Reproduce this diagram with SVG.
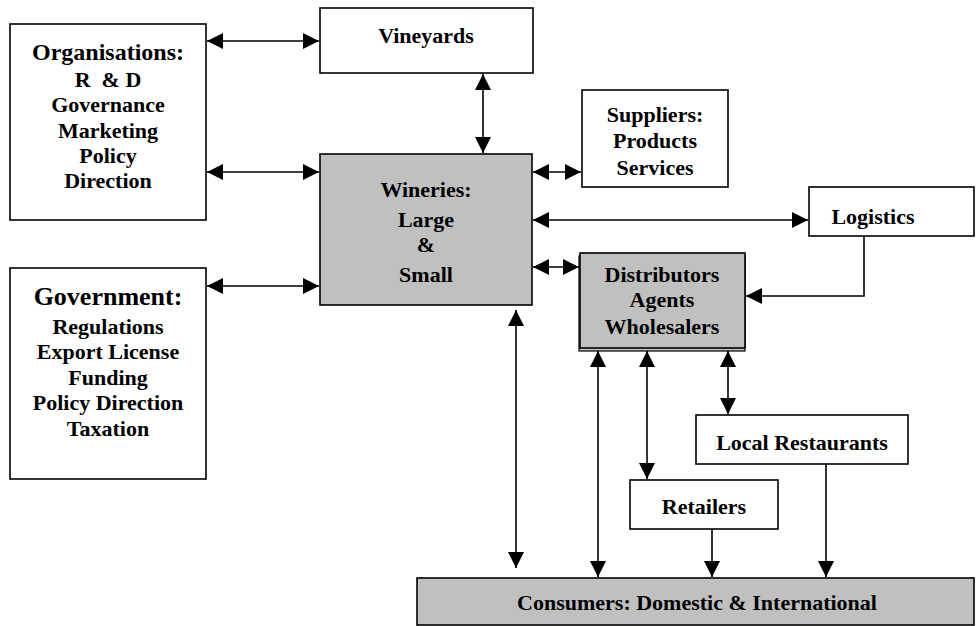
<svg xmlns="http://www.w3.org/2000/svg" width="976" height="626" viewBox="0 0 976 626">
<defs>
<marker id="ah" viewBox="0 0 16 16" refX="16" refY="8" markerWidth="16" markerHeight="16" markerUnits="userSpaceOnUse" orient="auto-start-reverse">
<path d="M0,0 L16,8 L0,16 z" fill="#000"/>
</marker>
<style>
.box{fill:#fff;stroke:#000;stroke-width:1.6}
.gbox{fill:#c0c0c0;stroke:#000;stroke-width:1.6}
.sh{fill:#c0c0c0;stroke:#000;stroke-width:1.2}
text{font-family:"Liberation Serif","Times New Roman",serif;font-weight:bold;fill:#000;text-anchor:middle;font-size:22px}
.big{font-size:26px}
.hd{font-size:24px}
.pre{white-space:pre}
.c{fill:none;stroke:#000;stroke-width:1.6}
.b{marker-start:url(#ah);marker-end:url(#ah)}
.e{marker-end:url(#ah)}
</style>
</defs>
<g id="organisations">
<rect class="box" x="10" y="24" width="196" height="196"/>
<text class="hd" x="108" y="60">Organisations:</text>
<text class="pre" x="108" y="87" xml:space="preserve">R  &amp; D</text>
<text x="108" y="112">Governance</text>
<text x="108" y="138">Marketing</text>
<text x="108" y="163">Policy</text>
<text x="108" y="188">Direction</text>
</g>
<g id="government">
<rect class="box" x="10" y="268" width="196" height="211"/>
<text class="big" x="108" y="305">Government:</text>
<text x="108" y="334">Regulations</text>
<text x="108" y="359">Export License</text>
<text x="108" y="385">Funding</text>
<text x="108" y="410">Policy Direction</text>
<text x="108" y="436">Taxation</text>
</g>
<g id="vineyards">
<rect class="box" x="320" y="8" width="213" height="65"/>
<text x="426" y="43">Vineyards</text>
</g>
<g id="wineries">
<rect class="gbox" x="320" y="154" width="212" height="151"/>
<text x="426" y="197">Wineries:</text>
<text x="426" y="227">Large</text>
<text x="426" y="252">&amp;</text>
<text x="426" y="282">Small</text>
</g>
<g id="suppliers">
<rect class="box" x="582" y="90" width="146" height="97"/>
<text x="655" y="122">Suppliers:</text>
<text x="655" y="148">Products</text>
<text x="655" y="175">Services</text>
</g>
<g id="logistics">
<rect class="box" x="809" y="187" width="165" height="49"/>
<text x="873" y="224">Logistics</text>
</g>
<g id="distributors">
<rect class="sh" x="579" y="256" width="166" height="95"/>
<rect class="gbox" x="580" y="253" width="165" height="95"/>
<text x="662" y="282">Distributors</text>
<text x="662" y="307">Agents</text>
<text x="662" y="334">Wholesalers</text>
</g>
<g id="restaurants">
<rect class="box" x="696" y="415" width="212" height="49"/>
<text x="802" y="450">Local Restaurants</text>
</g>
<g id="retailers">
<rect class="box" x="630" y="480" width="148" height="49"/>
<text x="704" y="514">Retailers</text>
</g>
<g id="consumers">
<rect class="gbox" x="417" y="578" width="557" height="47"/>
<text x="697" y="610">Consumers: Domestic &amp; International</text>
</g>
<g id="connectors">
<line class="c b" x1="207" y1="41" x2="319" y2="41"/>
<line class="c b" x1="207" y1="172" x2="319" y2="172"/>
<line class="c b" x1="207" y1="286" x2="319" y2="286"/>
<line class="c b" x1="483" y1="74" x2="483" y2="153"/>
<line class="c b" x1="533" y1="172" x2="581" y2="172"/>
<line class="c b" x1="533" y1="220" x2="808" y2="220"/>
<line class="c b" x1="533" y1="267" x2="579" y2="267"/>
<path class="c e" d="M864,236 V296 H746"/>
<line class="c b" x1="516" y1="310" x2="516" y2="568"/>
<line class="c b" x1="598" y1="351" x2="598" y2="577"/>
<line class="c b" x1="647" y1="351" x2="647" y2="479"/>
<line class="c b" x1="728" y1="351" x2="728" y2="414"/>
<line class="c e" x1="712" y1="529" x2="712" y2="577"/>
<line class="c e" x1="826" y1="464" x2="826" y2="577"/>
</g>
</svg>
